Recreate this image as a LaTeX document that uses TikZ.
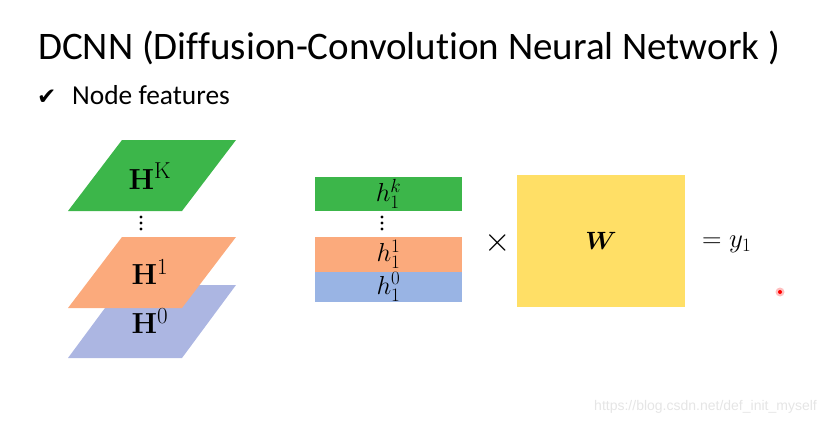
\RequirePackage{fix-cm}
\documentclass[tikz,border=0pt]{standalone}
\usepackage{amsmath}
\usepackage{amssymb}
\usepackage[no-math]{fontspec}
\setmainfont{Carlito}[Ligatures=NoCommon]
\newfontfamily\urlfont{Liberation Sans}
\newfontfamily\tickfont{DejaVu Sans}
\usepackage{tikz}

\DeclareMathSizes{26}{26}{19}{15}
\DeclareMathSizes{29}{29}{23}{17}

\definecolor{planegreen}{RGB}{60,182,74}
\definecolor{planeorange}{RGB}{251,170,124}
\definecolor{planeblue}{RGB}{172,182,226}
\definecolor{rowblue}{RGB}{153,180,228}
\definecolor{weightyellow}{RGB}{255,223,102}

\tikzset{
  mathlabel/.style={font=\fontsize{26}{30}\selectfont},
  planelabel/.style={font=\fontsize{29}{33}\selectfont},
  row/.style={minimum width=147pt, inner sep=0pt, draw=none, mathlabel},
}

\begin{document}
\begin{tikzpicture}[x=1pt,y=-1pt]
	\tikzstyle{every node}+=[inner sep=0pt]
	\useasboundingbox (0,0) rectangle (827,423);
	% heading
	\node [anchor=base west, font=\fontsize{39}{44}\selectfont] (title) at (38,59) {DCNN (Diffusion-Convolution Neural Network )};
	\node [anchor=base west, font=\tickfont\fontsize{23}{26}\selectfont] (tick) at (37,104) {✔};
	\node [anchor=base west, font=\fontsize{27.4}{32}\selectfont] (feat) at (72,104) {Node features};
	% stacked planes H^0 .. H^K
	\fill [planeblue] (122,285) -- (236,285) -- (182,358) -- (68,358) -- cycle;
	\fill [planeorange] (122,237) -- (236,237) -- (182,308) -- (68,308) -- cycle;
	\fill [planegreen] (122,140) -- (236,140) -- (182,211) -- (68,211) -- cycle;
	\node [planelabel] (hK) at (150,176) {$\mathbf{H}^{\mathrm{K}}$};
	\node [planelabel] (h1) at (150,272) {$\mathbf{H}^{1}$};
	\node [planelabel] (h0) at (150,321) {$\mathbf{H}^{0}$};
	\foreach \y in {217,223,229} \fill (141,\y) circle (1.6);
	% row of node 1
	\node [row, fill=planegreen, minimum height=34pt] (rk) at (388.5,194) {$h_1^k$};
	\node [row, fill=planeorange, minimum height=35pt] (r1) at (388.5,254.5) {$h_1^1$};
	\node [row, fill=rowblue, minimum height=30pt] (r0) at (388.5,287) {$h_1^0$};
	\foreach \y in {217,223,229} \fill (382,\y) circle (1.6);
	% product with W
	\node [font=\fontsize{34}{38}\selectfont] (times) at (498,243) {$\times$};
	\node [fill=weightyellow, minimum width=168pt, minimum height=132pt, font=\fontsize{25}{29}\selectfont] (w) at (601,241) {$\boldsymbol{W}$};
	\node [font=\fontsize{27}{31}\selectfont, anchor=west] (y1) at (702,244) {$=y_1$};
	% pointer
	\fill [red!25] (780,292) circle (4.5);
	\fill [red] (780,292) circle (2);
	\node [anchor=base east, font=\urlfont\fontsize{14}{16}\selectfont, text=black!10] (mark) at (817,410) {https://blog.csdn.net/def\_init\_myself};
\end{tikzpicture}
\end{document}
